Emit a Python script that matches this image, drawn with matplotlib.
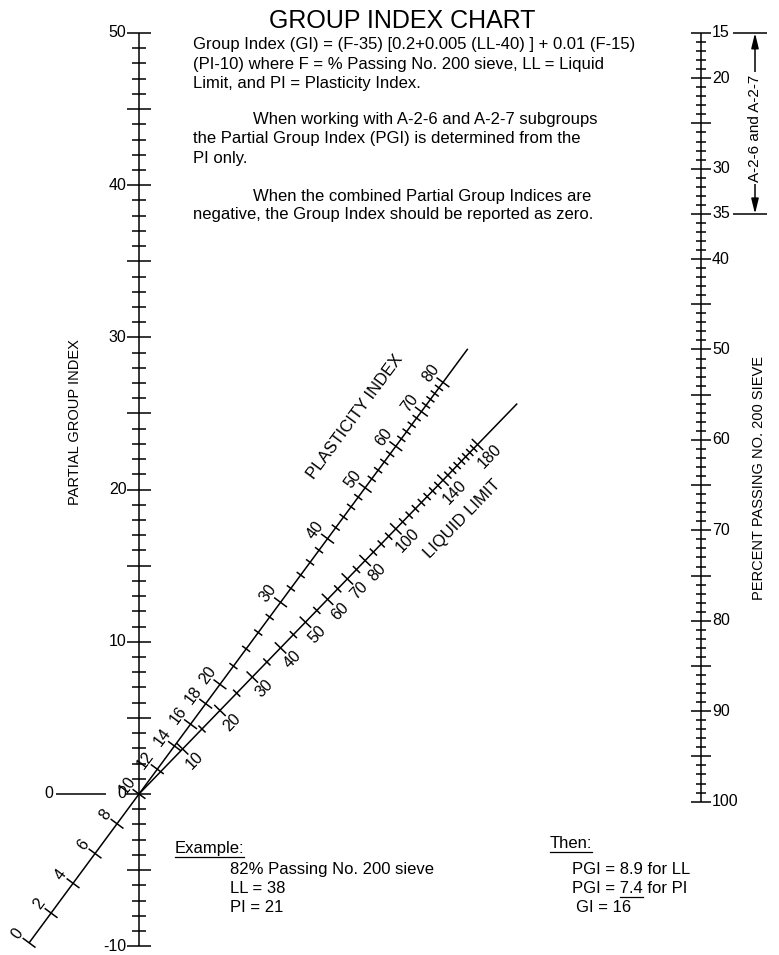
import numpy as np
import matplotlib
matplotlib.use('Agg')
import matplotlib.pyplot as plt

plt.rcParams['font.family'] = ['Liberation Sans', 'DejaVu Sans']

# ---- data: scales of the nomograph ----
PGI_TICKS = list(range(-10, 51))            # left scale, 1 unit steps
PGI_LABELS = [50, 40, 30, 20, 10, 0, -10]
F_TICKS = list(range(15, 101))               # right scale, % passing No. 200
F_LABELS = [15, 20, 30, 35, 40, 50, 60, 70, 80, 90, 100]
PI_TICKS = list(range(0, 81, 2))
PI_LABELS = [0, 2, 4, 6, 8, 10, 12, 14, 16, 18, 20, 30, 40, 50, 60, 70, 80]
LL_TICKS = list(range(10, 181, 5))
LL_LABELS = [10, 20, 30, 40, 50, 60, 70, 80, 100, 140, 180]

TEXT_LINES = [
    ("Group Index (GI) = (F-35) [0.2+0.005 (LL-40) ] + 0.01 (F-15)", 193, 43),
    ("(PI-10) where F = % Passing No. 200 sieve, LL = Liquid", 193, 63),
    ("Limit, and PI = Plasticity Index.", 193, 82),
    ("When working with A-2-6 and A-2-7 subgroups", 253, 118),
    ("the Partial Group Index (PGI) is determined from the", 193, 137),
    ("PI only.", 193, 157),
    ("When the combined Partial Group Indices are", 253, 195),
    ("negative, the Group Index should be reported as zero.", 193, 213),
]
EXAMPLE_LINES = ["82% Passing No. 200 sieve", "LL = 38", "PI = 21"]

# ---- layout (pixels of out.png) ----
W, H = 779, 955
X_L, X_R = 139, 701        # left / right scale lines
Y0, PXU = 794, 15.22       # pivot (PGI = 0) and px per PGI unit
F_BOTTOM_U = -0.5          # F = 100 sits slightly below PGI 0
PI_LOW_STEP = 18.5         # px per PI unit below the pivot (as drawn)
SX = X_R - X_L

fig = plt.figure(figsize=(W / 100, H / 100), dpi=100)
ax = fig.add_axes([0, 0, 1, 1])
ax.axis('off')
ax.set_xlim(-X_L / SX, (W - X_L) / SX)
ax.set_ylim((Y0 - H) / PXU, Y0 / PXU)


def px(x, y):
    return (x - X_L) / SX, (Y0 - y) / PXU


LW = 1.1
K = dict(color='black', lw=LW, solid_capstyle='butt')

# Z-chart geometry
b = (50 - F_BOTTOM_U) / 85.0


def f2u(F):
    return 50 - b * (F - 15)


slope_pi = f2u(15)
slope_ll = f2u(35)
len_pi = np.hypot(SX, slope_pi * PXU)


def t_pi(v):
    if v >= 10:
        r = 0.01 * (v - 10) / b
        return r / (1 + r)
    return -(10 - v) * PI_LOW_STEP / len_pi


def t_ll(v):
    r = 0.005 * v / b
    return r / (1 + r)


# ---- left scale ----
ax.plot([0, 0], [-10, 50], **K)
for u in PGI_TICKS:
    h = (12 if u % 5 == 0 else 7) / SX
    ax.plot([-h, h], [u, u], **K)
for u in PGI_LABELS:
    ax.text(-12.5 / SX, u, str(u), ha='right', va='center', fontsize=11.5)

# ---- right scale ----
ax.plot([1, 1], [f2u(15), f2u(100)], **K)
for F in F_TICKS:
    h = (10 if F % 5 == 0 else 5) / SX
    ax.plot([1 - h, 1 + h], [f2u(F), f2u(F)], **K)
for F in F_LABELS:
    ax.text(1 + 11 / SX, f2u(F), str(F), ha='left', va='center', fontsize=11.5)

# A-2-6 / A-2-7 bracket
for F in (15, 35):
    ax.plot([px(733, 0)[0], px(767, 0)[0]], [f2u(F), f2u(F)], **K)
xa = px(755, 0)[0]
ax.annotate('', xy=(xa, f2u(15)), xytext=(xa, f2u(35)),
            arrowprops=dict(arrowstyle='<|-|>,head_length=0.9,head_width=0.22',
                            color='black', lw=LW,
                            shrinkA=0, shrinkB=0, mutation_scale=10))
ax.text(xa, f2u(25.5), 'A-2-6 and A-2-7', rotation=90, ha='center',
        va='center', fontsize=11,
        bbox=dict(facecolor='white', edgecolor='none', pad=1.5))


# ---- diagonal scales ----
def diag(slope, ticks, labels, tfun, t_end, off, big=8, small=5):
    dx, dy = SX, slope * PXU
    n = np.hypot(dx, dy)
    nx, ny = -dy / n, dx / n                  # upper-left normal (px)
    ang = np.degrees(np.arctan2(dy, dx))
    t0 = min(0, tfun(ticks[0]))
    ax.plot([t0, t_end], [slope * t0, slope * t_end], **K)
    for v in ticks:
        t = tfun(v)
        h = big if v in labels else small
        ax.plot([t - nx * h / SX, t + nx * h / SX],
                [slope * t - ny * h / PXU, slope * t + ny * h / PXU], **K)
    for v in labels:
        t = tfun(v)
        ax.text(t + nx * off / SX, slope * t + ny * off / PXU, str(v),
                rotation=ang, rotation_mode='anchor', ha='center',
                va='center', fontsize=11.5)
    return nx, ny, ang


nxp, nyp, ang_p = diag(slope_pi, PI_TICKS, PI_LABELS, t_pi, 0.585, 15)
nxl, nyl, ang_l = diag(slope_ll, LL_TICKS, LL_LABELS, t_ll, 0.673, -17)

tp = 0.456
ax.text(tp + nxp * 50 / SX, slope_pi * tp + nyp * 50 / PXU, 'PLASTICITY INDEX',
        rotation=ang_p, rotation_mode='anchor', ha='center', va='center',
        fontsize=12)
tl = 0.523
ax.text(tl - nxl * 41 / SX, slope_ll * tl - nyl * 41 / PXU, 'LIQUID LIMIT',
        rotation=ang_l, rotation_mode='anchor', ha='center', va='center',
        fontsize=12)

# zero marker on the left
ax.plot([px(56, 0)[0], px(106, 0)[0]], [0, 0], **K)
ax.text(*px(49, Y0), '0', ha='center', va='center', fontsize=11.5)

# side titles
ax.text(*px(75, 422), 'PARTIAL GROUP INDEX', rotation=90, ha='center',
        va='center', fontsize=10.5)
ax.text(*px(759, 478), 'PERCENT PASSING NO. 200 SIEVE', rotation=90,
        ha='center', va='center', fontsize=10.5)

# ---- text block ----
ax.text(*px(402, 21), 'GROUP INDEX CHART', ha='center', va='center',
        fontsize=18)
for s, x, y in TEXT_LINES:
    ax.text(*px(x, y + 6), s, ha='left', va='baseline', fontsize=12)

renderer = fig.canvas.get_renderer()
inv = ax.transData.inverted()


def underline(txt, x0=None, x1=None):
    bb = txt.get_window_extent(renderer)
    xa0 = bb.x0 if x0 is None else x0
    xa1 = bb.x1 if x1 is None else x1
    p0 = inv.transform((xa0, bb.y0 - 1))
    p1 = inv.transform((xa1, bb.y0 - 1))
    ax.plot([p0[0], p1[0]], [p0[1], p0[1]], color='black', lw=0.9)


ex = ax.text(*px(175, 853), 'Example:', ha='left', va='baseline', fontsize=12)
underline(ex)
for i, s in enumerate(EXAMPLE_LINES):
    ax.text(*px(230, 874 + 19 * i), s, ha='left', va='baseline', fontsize=12)

th = ax.text(*px(550, 848), 'Then:', ha='left', va='baseline', fontsize=12)
underline(th)
ax.text(*px(572, 874), 'PGI = 8.9 for LL', ha='left', va='baseline', fontsize=12)
pg = ax.text(*px(572, 893), 'PGI = 7.4 for PI', ha='left', va='baseline',
             fontsize=12)
tmp1 = ax.text(*px(572, 893), 'PGI = 7.4', ha='left', va='baseline', fontsize=12)
tmp2 = ax.text(*px(572, 893), '7.4', ha='left', va='baseline', fontsize=12)
w1 = tmp1.get_window_extent(renderer)
w2 = tmp2.get_window_extent(renderer)
tmp1.remove()
tmp2.remove()
underline(pg, w1.x1 - w2.width, w1.x1)
ax.text(*px(576, 912), 'GI = 16', ha='left', va='baseline', fontsize=12)

fig.savefig('out.png', dpi=100, facecolor='white')
